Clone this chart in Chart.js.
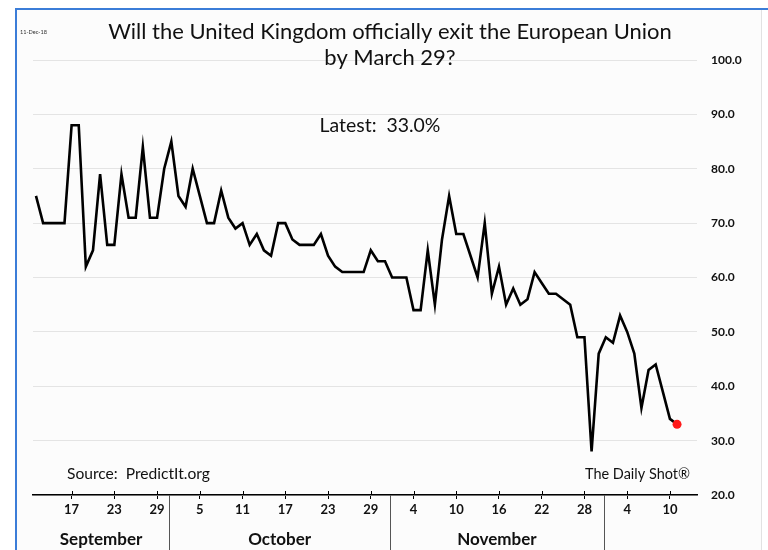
<!DOCTYPE html>
<html><head><meta charset="utf-8">
<script src="https://cdn.jsdelivr.net/npm/chart.js@4/dist/chart.umd.min.js"></script>
<style>html,body{margin:0;padding:0;background:#fff}#wrap{width:768px;height:550px}</style>
</head><body><div id="wrap"><canvas id="c" width="768" height="550"></canvas></div>
<script>
// ---- data ----
const startDate = '2018-09-12';           // first daily observation
const values = [
  75,70,70,70,70,88,88,62,65,79,66,66,79,71,71,84,71,71,80,
  85,75,73,80,75,70,70,76,71,69,70,66,68,65,64,70,70,67,66,66,66,68,64,62,61,61,61,61,65,63,63,
  60,60,60,54,54,65,55,67,75,68,68,64,60,70,57,62,55,58,55,56,61,59,57,57,56,55,49,49,28,46,
  49,48,53,50,46,36,43,44,39,34,33
];
const tickDates = ['2018-09-17','2018-09-23','2018-09-29','2018-10-05','2018-10-11','2018-10-17','2018-10-23','2018-10-29',
                   '2018-11-04','2018-11-10','2018-11-16','2018-11-22','2018-11-28','2018-12-04','2018-12-10'];
const tickLabels = ['17','23','29','5','11','17','23','29','4','10','16','22','28','4','10'];
const monthNames = ['September','October','November'];
const monthStarts = ['2018-10-01','2018-11-01','2018-12-01'];
const yTicks = [20,30,40,50,60,70,80,90,100];
const titleLines = ['Will the United Kingdom officially exit the European Union','by March 29?'];
const latestText = 'Latest:  33.0%';
const sourceText = 'Source:  PredictIt.org';
const brandText = 'The Daily Shot\u00AE';
const dateStamp = '11-Dec-18';

// ---- helpers ----
const DAY = 86400000;
const t0 = Date.parse(startDate + 'T00:00:00Z');
const dayIndex = d => Math.round((Date.parse(d + 'T00:00:00Z') - t0) / DAY);
const tickIdx = tickDates.map(dayIndex);
const monthIdx = monthStarts.map(dayIndex);
const points = values.map((v, i) => ({x: i, y: v}));
const FONT = 'Lato, "Open Sans", sans-serif';

function fitText(ctx, text, x, y, targetW, weight, align, color, size) {
  ctx.save();
  let s = size || 20;
  ctx.font = `${weight} ${s}px ${FONT}`;
  if (!size) {
    const w = ctx.measureText(text).width;
    s = s * targetW / w;
    ctx.font = `${weight} ${s}px ${FONT}`;
  }
  ctx.fillStyle = color; ctx.textAlign = align; ctx.textBaseline = 'middle';
  ctx.fillText(text, x, y);
  ctx.restore();
  return s;
}

const decor = {
  id: 'decor',
  beforeDraw(chart) {
    const ctx = chart.ctx;
    ctx.save();
    ctx.fillStyle = '#fff'; ctx.fillRect(0, 0, chart.width, chart.height);
    ctx.fillStyle = '#fcfcfc'; ctx.fillRect(17, 10, 744, 540);
    ctx.strokeStyle = '#3b7dd8'; ctx.lineWidth = 2;
    ctx.beginPath(); ctx.moveTo(16, 550); ctx.lineTo(16, 9); ctx.lineTo(768, 9); ctx.stroke();
    ctx.strokeStyle = '#e2e2e2'; ctx.lineWidth = 1;
    ctx.beginPath(); ctx.moveTo(761.5, 10); ctx.lineTo(761.5, 550); ctx.stroke();
    ctx.restore();
  },
  afterDraw(chart) {
    const ctx = chart.ctx, xs = chart.scales.x, area = chart.chartArea;
    const ts = fitText(ctx, titleLines[0], 390, 32, 564, 'normal', 'center', '#111');
    fitText(ctx, titleLines[1], 390, 58, 0, 'normal', 'center', '#111', ts);
    fitText(ctx, dateStamp, 20, 32, 27, 'normal', 'left', '#333');
    fitText(ctx, latestText, 380, 126, 121, 'normal', 'center', '#111');
    fitText(ctx, sourceText, 67, 474, 143, 'normal', 'left', '#111');
    fitText(ctx, brandText, 690, 474, 105, 'normal', 'right', '#111');
    // small tick marks above axis
    ctx.save();
    ctx.strokeStyle = '#000'; ctx.lineWidth = 1;
    tickIdx.forEach(i => {
      const px = Math.round(xs.getPixelForValue(i)) + 0.5;
      ctx.beginPath(); ctx.moveTo(px, area.bottom - 4); ctx.lineTo(px, area.bottom); ctx.stroke();
    });
    // month dividers
    ctx.strokeStyle = '#555'; ctx.lineWidth = 1;
    const divPx = monthIdx.map(i => xs.getPixelForValue(i - 0.3));
    divPx.forEach(px => {
      const p = Math.round(px) + 0.5;
      ctx.beginPath(); ctx.moveTo(p, area.bottom); ctx.lineTo(p, 550); ctx.stroke();
    });
    // month labels
    const bounds = [area.left, ...divPx];
    ctx.fillStyle = '#111'; ctx.textAlign = 'center'; ctx.textBaseline = 'middle';
    ctx.font = `bold 17px ${FONT}`;
    monthNames.forEach((m, k) => ctx.fillText(m, (bounds[k] + bounds[k + 1]) / 2, 540));
    ctx.restore();
  }
};

new Chart(document.getElementById('c'), {
  type: 'line',
  data: { datasets: [{
    data: points,
    borderColor: '#000', borderWidth: 2.6, tension: 0,
    pointRadius: values.map((v, i) => i === values.length - 1 ? 4.5 : 0),
    pointBackgroundColor: '#ff1a1a', pointBorderColor: '#ff1a1a', pointBorderWidth: 0
  }]},
  options: {
    responsive: false, animation: false, devicePixelRatio: 1,
    layout: { padding: { left: 33, right: 0, top: 60, bottom: 0 } },
    plugins: { legend: { display: false }, tooltip: { enabled: false } },
    scales: {
      x: {
        type: 'linear', min: -0.42, max: 92.8,
        afterFit: s => { s.height = 55; },
        afterBuildTicks: s => { s.ticks = tickIdx.map(v => ({ value: v })); },
        border: { display: true, color: '#000', width: 1.5 },
        grid: { display: true, drawOnChartArea: false, drawTicks: true, tickLength: 4, color: '#000' },
        ticks: {
          autoSkip: false, maxRotation: 0, padding: 3, color: '#111',
          font: { family: FONT, size: 13, weight: 'bold' },
          callback: v => tickLabels[tickIdx.indexOf(v)]
        }
      },
      y: {
        position: 'right', min: 20, max: 100,
        afterFit: s => { s.width = 71; },
        afterBuildTicks: s => { s.ticks = yTicks.map(v => ({ value: v })); },
        border: { display: false },
        grid: { color: '#e4e4e4', lineWidth: 1, drawTicks: false },
        ticks: {
          padding: 14, color: '#111',
          font: { family: FONT, size: 12, weight: 'bold' },
          callback: v => v.toFixed(1)
        }
      }
    }
  },
  plugins: [decor]
});
</script>
</body></html>
